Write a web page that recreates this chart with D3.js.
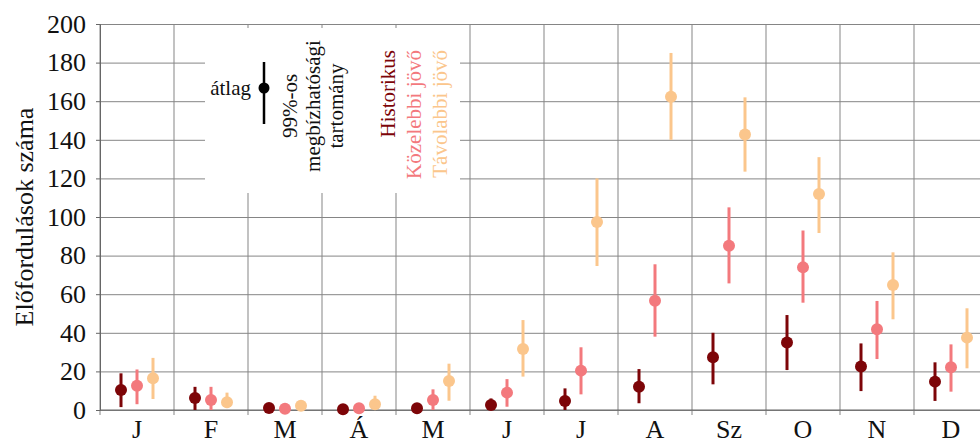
<!DOCTYPE html>
<html>
<head>
<meta charset="utf-8">
<script src="https://cdn.jsdelivr.net/npm/d3@7"></script>
<style>
  body { margin: 0; background: #fff; }
  svg text { font-family: "Liberation Serif", "Times New Roman", serif; }
</style>
</head>
<body>
<script>
// Width and height of chart
var width = 980;
var height = 446;

// months and y ticks
var months = ["J", "F", "M", "Á", "M", "J", "J", "A", "Sz", "O", "N", "D"];
var yTicks = [0, 20, 40, 60, 80, 100, 120, 140, 160, 180, 200];

// series names (legend)
var seriesNames = ["Historikus", "Közelebbi jövő", "Távolabbi jövő"];
var seriesColors = ["#7d0508", "#f3797d", "#fbc68c"];

// mean and 99% interval, one value per month
var histMean = [10.4, 6.2, 1, 0.4, 0.9, 2.6, 4.7, 12.1, 27.3, 35, 22.5, 14.7];
var histLow  = [1.5, 0, 0, 0, 0, 0.5, 0, 3.5, 13.3, 20.7, 9.8, 4.7];
var histHigh = [19, 12, 2, 1.5, 2, 6, 11.2, 21.2, 40, 49.2, 34.5, 24.7];

var nearMean = [12.6, 5.2, 0.7, 0.9, 5.2, 9, 20.4, 56.6, 85.1, 73.9, 41.8, 22.1];
var nearLow  = [3, 0, 0, 0, 0, 1.7, 8.1, 38, 65.6, 55.6, 26.4, 9.5];
var nearHigh = [21, 12, 2, 2, 10.7, 16, 32.5, 75.5, 105, 93, 56.5, 34];

var farMean = [16.5, 4, 2.2, 3, 15, 31.6, 97.4, 162.3, 142.8, 111.9, 64.8, 37.5];
var farLow  = [5.7, 1, 0, 0, 4.8, 17.3, 74.6, 140, 123.5, 91.7, 47, 21.6];
var farHigh = [27, 9, 4, 7.4, 24, 46.6, 120, 185, 162, 131, 81.7, 52.7];

var margin = { left: 100, top: 24, bottom: 36 };
var plotW = 888;
var plotH = height - margin.top - margin.bottom;
var serif = "'Liberation Serif', 'Times New Roman', serif";

var svg = d3.select("body")
  .append("svg")
  .attr("width", width)
  .attr("height", height)
  .attr("font-family", serif);

var x = d3.scaleBand()
  .domain(d3.range(months.length))
  .range([margin.left, margin.left + plotW])
  .padding(0);

var y = d3.scaleLinear()
  .domain([0, 200])
  .range([margin.top + plotH, margin.top]);

var sub = d3.scaleBand()
  .domain(d3.range(3))
  .range([x.bandwidth() / 2 - 24, x.bandwidth() / 2 + 24])
  .padding(0);

var gridColor = "#858585";

// horizontal grid
svg.append("g")
  .attr("transform", "translate(" + margin.left + ",0)")
  .call(d3.axisLeft(y).tickValues(yTicks).tickSize(-plotW).tickFormat(""))
  .call(function(g) {
    g.select(".domain").remove();
    g.selectAll("line").attr("stroke", gridColor);
  });

// vertical grid at month edges
var edges = d3.range(months.length + 1);
svg.append("g").selectAll("line")
  .data(edges)
  .enter()
  .append("line")
  .attr("x1", function(d) { return margin.left + d * x.bandwidth(); })
  .attr("x2", function(d) { return margin.left + d * x.bandwidth(); })
  .attr("y1", margin.top)
  .attr("y2", margin.top + plotH + 5)
  .attr("stroke", gridColor);

// white box behind the legend
svg.append("rect")
  .attr("x", 205)
  .attr("y", 28)
  .attr("width", 255)
  .attr("height", 165)
  .attr("fill", "#fff");

// y axis
svg.append("g")
  .attr("transform", "translate(" + margin.left + ",0)")
  .call(d3.axisLeft(y).tickValues(yTicks).tickSize(4).tickPadding(10))
  .attr("font-family", serif)
  .attr("font-size", 26)
  .call(function(g) {
    g.select(".domain").attr("stroke", "#666");
    g.selectAll("line").attr("stroke", "#666");
    g.selectAll("text").attr("fill", "#111");
  });

// x axis line
svg.append("line")
  .attr("x1", margin.left).attr("x2", margin.left + plotW)
  .attr("y1", y(0)).attr("y2", y(0))
  .attr("stroke", "#666");

// month labels
svg.append("g").selectAll("text")
  .data(months)
  .enter()
  .append("text")
  .attr("x", function(d, i) { return x(i) + x.bandwidth() / 2; })
  .attr("y", 438)
  .attr("text-anchor", "middle")
  .style("font-size", "26px")
  .attr("fill", "#111")
  .text(function(d) { return d; });

// y axis title
svg.append("text")
  .attr("transform", "translate(33," + (margin.top + plotH / 2) + ") rotate(-90)")
  .attr("text-anchor", "middle")
  .style("font-size", "26px")
  .attr("fill", "#111")
  .text("Előfordulások száma");

// the three series
var series = [
  { mean: histMean, low: histLow, high: histHigh },
  { mean: nearMean, low: nearLow, high: nearHigh },
  { mean: farMean, low: farLow, high: farHigh }
];

series.forEach(function(s, k) {
  var g = svg.append("g");
  var rows = months.map(function(m, i) {
    return { i: i, mean: s.mean[i], low: s.low[i], high: s.high[i] };
  });
  var cx = function(d) { return x(d.i) + sub(k) + sub.bandwidth() / 2; };
  g.selectAll("line")
    .data(rows)
    .enter()
    .append("line")
    .attr("x1", cx).attr("x2", cx)
    .attr("y1", function(d) { return y(d.low); })
    .attr("y2", function(d) { return y(d.high); })
    .attr("stroke", seriesColors[k])
    .attr("stroke-width", 3);
  g.selectAll("circle")
    .data(rows)
    .enter()
    .append("circle")
    .attr("cx", cx)
    .attr("cy", function(d) { return y(d.mean); })
    .attr("r", 6)
    .attr("fill", seriesColors[k]);
});

// legend: mean + interval
svg.append("line")
  .attr("x1", 264).attr("x2", 264)
  .attr("y1", 62).attr("y2", 124)
  .attr("stroke", "#000")
  .attr("stroke-width", 2.5);
svg.append("circle")
  .attr("cx", 264).attr("cy", 88).attr("r", 5.5)
  .attr("fill", "#000");
svg.append("text")
  .attr("x", 251).attr("y", 95)
  .attr("text-anchor", "end")
  .style("font-size", "21px")
  .attr("fill", "#111")
  .text("átlag");

var ciText = ["99%-os", "megbízhatósági", "tartomány"];
svg.append("g").selectAll("text")
  .data(ciText)
  .enter()
  .append("text")
  .attr("transform", function(d, i) { return "translate(" + (297 + i * 23) + ",106) rotate(-90)"; })
  .attr("text-anchor", "middle")
  .style("font-size", "21px")
  .attr("fill", "#111")
  .text(function(d) { return d; });

svg.append("g").selectAll("text")
  .data(seriesNames)
  .enter()
  .append("text")
  .attr("transform", function(d, i) { return "translate(" + (395 + i * 26) + ",50) rotate(-90)"; })
  .attr("text-anchor", "end")
  .style("font-size", "21px")
  .attr("fill", function(d, i) { return seriesColors[i]; })
  .text(function(d) { return d; });
</script>
</body>
</html>
